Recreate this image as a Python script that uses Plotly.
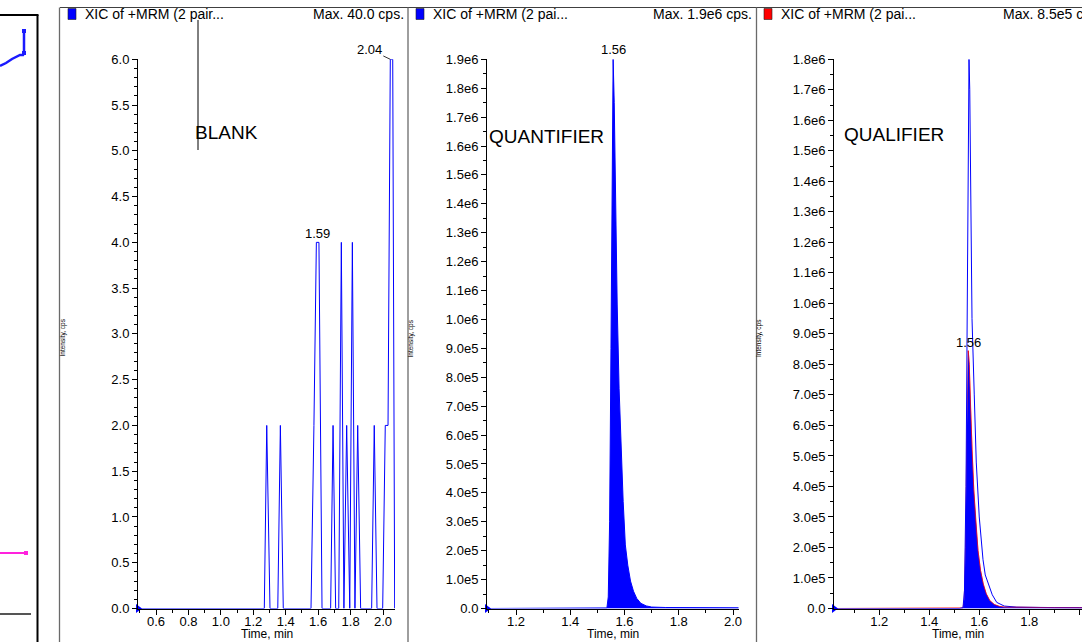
import plotly.graph_objects as go

W, H = 1082, 642
FONT = "Liberation Sans, Arial, sans-serif"

# ---------------- data ----------------
# Panel 1: BLANK (noise spikes)
blank_t = [0.489, 1.268, 1.283, 1.303, 1.351, 1.367, 1.385, 1.556, 1.574, 1.589, 1.605, 1.624,
           1.677, 1.692, 1.708, 1.727, 1.743, 1.759, 1.776, 1.795, 1.811, 1.827, 1.844, 1.862,
           1.930, 1.946, 1.963, 1.998, 2.014, 2.031, 2.045, 2.060, 2.072]
blank_i = [0, 0, 2, 0, 0, 2, 0, 0, 2, 4, 4, 0,
           0, 2, 0, 0, 4, 0, 2, 0, 4, 0, 2, 0,
           0, 2, 0, 0, 2, 2, 6, 6, 0]

# Panel 2: QUANTIFIER
quant_t = [1.093, 1.52, 1.535, 1.540, 1.545, 1.550, 1.555, 1.558, 1.562, 1.567, 1.573, 1.580,
           1.587, 1.595, 1.603, 1.612, 1.622, 1.633, 1.645, 1.66, 1.68, 1.70, 1.75, 1.80,
           1.85, 1.90, 1.95, 2.02]
quant_i = [0, 0, 2000, 40000, 300000, 900000, 1600000, 1900000, 1750000, 1400000, 1050000, 760000,
           540000, 370000, 220000, 150000, 95000, 60000, 35000, 18000, 9000, 5000, 3500, 3000,
           2800, 2600, 2500, 2400]

# Panel 3: QUALIFIER (red trace, integrated area) + quantifier overlay (blue line)
qual_t = [1.019, 1.52, 1.535, 1.540, 1.545, 1.550, 1.553, 1.556, 1.560, 1.565, 1.571, 1.578,
          1.586, 1.595, 1.605, 1.616, 1.628, 1.642, 1.66, 1.68, 1.70, 1.75, 1.80, 1.90, 2.0, 2.011]
qual_i = [0, 0, 2000, 30000, 200000, 550000, 780000, 845000, 800000, 660000, 520000, 390000,
          280000, 190000, 125000, 80000, 48000, 26000, 13000, 7000, 4500, 3500, 3000, 2800, 2600, 2500]

over_t = [1.019, 1.52, 1.535, 1.541, 1.547, 1.552, 1.556, 1.559, 1.562, 1.566, 1.571, 1.58,
          1.588, 1.60, 1.607, 1.615, 1.624, 1.64, 1.652, 1.67, 1.70, 1.75, 1.80, 1.90, 2.0, 2.011]
over_i = [0, 0, 3000, 60000, 400000, 1100000, 1650000, 1800000, 1700000, 1350000, 950000, 700000,
          480000, 300000, 230000, 160000, 110000, 70000, 45000, 20000, 8000, 4500, 3500, 3000, 2800, 2600]

# tick labels
blank_xticks = [0.6, 0.8, 1.0, 1.2, 1.4, 1.6, 1.8, 2.0]
blank_yticks = [0.0, 0.5, 1.0, 1.5, 2.0, 2.5, 3.0, 3.5, 4.0, 4.5, 5.0, 5.5, 6.0]
peak_xticks = [1.2, 1.4, 1.6, 1.8, 2.0]
quant_ytext = ["0.0"] + ["%.1fe5" % k for k in range(1, 10)] + ["%.1fe6" % (k / 10) for k in range(10, 20)]
quant_yvals = [k * 1e5 for k in range(0, 20)]
qual_ytext = quant_ytext[:19]
qual_yvals = quant_yvals[:19]

# fragment of the neighbouring (cropped) panel on the far left
frag_blue_x = [0, 6, 12, 16, 20, 23, 24, 24, 22]
frag_blue_y = [66, 63, 59, 57, 55, 55, 53, 31, 31]
frag_pink_x = [0, 26]
frag_pink_y = [553, 553]
frag_grey_x = [0, 31]
frag_grey_y = [614, 614]


def px(x):
    return x / W


def py(y):
    return 1 - y / H


fig = go.Figure()

Y_DOM = [py(608.5), py(59.3)]

# --- panel 1
fig.add_trace(go.Scatter(x=blank_t, y=blank_i, mode="lines", line=dict(color="#0000ff", width=1),
                         xaxis="x", yaxis="y", hoverinfo="skip"))
# --- panel 2
fig.add_trace(go.Scatter(x=quant_t, y=quant_i, mode="lines", fill="tozeroy", fillcolor="#0000ff",
                         line=dict(color="#0000ff", width=1), xaxis="x2", yaxis="y2", hoverinfo="skip"))
# --- panel 3
fig.add_trace(go.Scatter(x=qual_t, y=qual_i, mode="lines", line=dict(color="#ff0000", width=0.8),
                         xaxis="x3", yaxis="y3", hoverinfo="skip"))
fig.add_trace(go.Scatter(x=qual_t, y=qual_i, mode="lines", fill="tozeroy", fillcolor="#0000ff",
                         line=dict(color="#0000ff", width=0), xaxis="x3", yaxis="y3", hoverinfo="skip"))
fig.add_trace(go.Scatter(x=over_t, y=over_i, mode="lines", line=dict(color="#0000ff", width=1),
                         xaxis="x3", yaxis="y3", hoverinfo="skip"))
fig.add_trace(go.Scatter(x=qual_t[7:], y=qual_i[7:], mode="lines", line=dict(color="#ff0000", width=0.5),
                         xaxis="x3", yaxis="y3", hoverinfo="skip"))

# pointer triangles at zero level
for xa, ya, xmin in [("x", "y", 0.489), ("x2", "y2", 1.093), ("x3", "y3", 1.019)]:
    fig.add_trace(go.Scatter(x=[xmin], y=[0], mode="markers", cliponaxis=False,
                             marker=dict(symbol="triangle-right", size=8, color="#0000ff", line=dict(width=0)),
                             xaxis=xa, yaxis=ya, hoverinfo="skip"))

# fragment panel
for fx, fy, col, wd in [(frag_blue_x, frag_blue_y, "#1a1aff", 2.5),
                        (frag_pink_x, frag_pink_y, "#ff22dd", 2),
                        (frag_grey_x, frag_grey_y, "#555555", 2)]:
    fig.add_trace(go.Scatter(x=fx, y=fy, mode="lines", line=dict(color=col, width=wd),
                             xaxis="x4", yaxis="y4", hoverinfo="skip"))
fig.add_trace(go.Scatter(x=[frag_blue_x[-3], frag_blue_x[-2]], y=[frag_blue_y[-3], frag_blue_y[-2]],
                         mode="markers", marker=dict(symbol="square", size=4, color="#1a1aff"),
                         xaxis="x4", yaxis="y4", hoverinfo="skip"))
fig.add_trace(go.Scatter(x=[frag_pink_x[-1]], y=[frag_pink_y[-1]], mode="markers",
                         marker=dict(symbol="square", size=4, color="#ff22dd"),
                         xaxis="x4", yaxis="y4", hoverinfo="skip"))

tickfont = dict(family=FONT, size=13, color="black")
common_ax = dict(showgrid=False, zeroline=False, showline=True, linecolor="black", linewidth=1,
                 automargin=False,
                 ticks="outside", ticklen=5, tickwidth=1, tickcolor="black", tickfont=tickfont)


def minor(d):
    return dict(ticks="outside", ticklen=3, tickwidth=1, tickcolor="black", dtick=d, tick0=0, showgrid=False)


XSO = dict(ticklabelstandoff=-4)

layout = dict(
    template="none",
    font=dict(family=FONT, color="black"),
    width=W, height=H, margin=dict(l=0, r=0, t=0, b=0, pad=0), autosize=False,
    paper_bgcolor="white", plot_bgcolor="rgba(0,0,0,0)", showlegend=False,
    xaxis=dict(domain=[px(138), px(395)], range=[0.489, 2.074], anchor="y",
               tickvals=blank_xticks, ticktext=["%.1f" % v for v in blank_xticks], minor=minor(0.1),
               **XSO, **common_ax),
    yaxis=dict(domain=Y_DOM, range=[0, 6.0], anchor="x",
               tickvals=blank_yticks, ticktext=["%.1f" % v for v in blank_yticks], minor=minor(0.1), **common_ax),
    xaxis2=dict(domain=[px(487), px(739)], range=[1.093, 2.022], anchor="y2",
                tickvals=peak_xticks, ticktext=["%.1f" % v for v in peak_xticks], minor=minor(0.1),
                **XSO, **common_ax),
    yaxis2=dict(domain=Y_DOM, range=[0, 1.9e6], anchor="x2",
                tickvals=quant_yvals, ticktext=quant_ytext, minor=minor(5e4), **common_ax),
    xaxis3=dict(domain=[px(834), 1.0], range=[1.019, 2.011], anchor="y3",
                tickvals=peak_xticks, ticktext=["%.1f" % v for v in peak_xticks], minor=minor(0.1),
                **XSO, **common_ax),
    yaxis3=dict(domain=Y_DOM, range=[0, 1.8e6], anchor="x3",
                tickvals=qual_yvals, ticktext=qual_ytext, minor=minor(5e4), **common_ax),
    xaxis4=dict(domain=[0, px(38)], range=[0, 38], anchor="y4", visible=False, fixedrange=True, automargin=False),
    yaxis4=dict(domain=[0, py(15)], range=[642, 15], anchor="x4", visible=False, fixedrange=True, automargin=False),
)
fig.update_layout(**layout)

shapes = []
# panel frames
frame_col = "#6a6a6a"
shapes.append(dict(type="line", xref="paper", yref="paper", x0=px(60), x1=1, y0=py(7.5), y1=py(7.5),
                   line=dict(color="#404040", width=1.2)))
for xv in [59.5, 408, 756.5]:
    shapes.append(dict(type="line", xref="paper", yref="paper", x0=px(xv), x1=px(xv), y0=py(7.5), y1=0,
                       line=dict(color=frame_col, width=1.3)))
# fragment frame
shapes.append(dict(type="line", xref="paper", yref="paper", x0=px(37.5), x1=px(37.5), y0=py(15), y1=0,
                   line=dict(color="black", width=2)))
shapes.append(dict(type="line", xref="paper", yref="paper", x0=0, x1=px(38.5), y0=py(15), y1=py(15),
                   line=dict(color="black", width=2)))
# header colour boxes
for x0, col in [(68, "#0000ff"), (416, "#0000ff"), (764, "#ff0000")]:
    shapes.append(dict(type="rect", xref="paper", yref="paper", x0=px(x0), x1=px(x0 + 8), y0=py(19.5), y1=py(8.5),
                       fillcolor=col, line=dict(color="#202020", width=0.6)))
# pointer line for BLANK label
shapes.append(dict(type="line", xref="paper", yref="paper", x0=px(198), x1=px(198), y0=py(20), y1=py(150),
                   line=dict(color="black", width=1)))
fig.update_layout(shapes=shapes)

ann = []
hf = dict(family=FONT, size=14, color="black")
for x0, txt in [(83, "XIC of +MRM (2 pair..."), (431, "XIC of +MRM (2 pai..."), (779, "XIC of +MRM (2 pai...")]:
    ann.append(dict(xref="paper", yref="paper", x=px(x0), y=py(14), text=txt, showarrow=False,
                    xanchor="left", yanchor="middle", font=hf))
for x1, txt in [(405.5, "Max. 40.0 cps."), (753.5, "Max. 1.9e6 cps.")]:
    ann.append(dict(xref="paper", yref="paper", x=px(x1), y=py(14), text=txt, showarrow=False,
                    xanchor="right", yanchor="middle", font=hf))
ann.append(dict(xref="paper", yref="paper", x=px(1002), y=py(14), text="Max. 8.5e5 c", showarrow=False,
                xanchor="left", yanchor="middle", borderpad=0, font=hf))
# sample labels
bf = dict(family=FONT, size=19, color="black")
ann.append(dict(xref="paper", yref="paper", x=px(193), y=py(132), text="BLANK", showarrow=False,
                xanchor="left", yanchor="middle", font=bf))
ann.append(dict(xref="paper", yref="paper", x=px(487), y=py(136), text="QUANTIFIER", showarrow=False,
                xanchor="left", yanchor="middle", font=bf))
ann.append(dict(xref="paper", yref="paper", x=px(842), y=py(134), text="QUALIFIER", showarrow=False,
                xanchor="left", yanchor="middle", font=bf))
# peak labels
pf = dict(family=FONT, size=13, color="black")
ann.append(dict(xref="x", yref="y", x=1.597, y=4, text="1.59", showarrow=False, yanchor="bottom", yshift=-1, font=pf))
ann.append(dict(xref="x", yref="y", x=2.045, y=6, text="2.04", showarrow=True, arrowhead=0, arrowwidth=0.8,
                arrowcolor="black", ax=-21, ay=-10, standoff=0, font=pf))
ann.append(dict(xref="x2", yref="y2", x=1.558, y=1.9e6, text="1.56", showarrow=False, yanchor="bottom", yshift=0, font=pf))
ann.append(dict(xref="x3", yref="y3", x=1.556, y=8.45e5, text="1.56", showarrow=False, yanchor="bottom", yshift=-1, font=pf))
# axis titles
for cx in [267, 613, 958]:
    ann.append(dict(xref="paper", yref="paper", x=px(cx), y=0, text="Time, min", showarrow=False,
                    xanchor="center", yanchor="bottom", borderpad=0,
                    font=dict(family=FONT, size=12, color="black")))
for cx in [62.5, 410.5, 759]:
    ann.append(dict(xref="paper", yref="paper", x=px(cx), y=py(338), text="Intensity, cps", showarrow=False,
                    xanchor="center", yanchor="middle", textangle=-90, font=dict(family=FONT, size=6.5, color="black")))
fig.update_layout(annotations=ann)

fig.write_html("out.html")
